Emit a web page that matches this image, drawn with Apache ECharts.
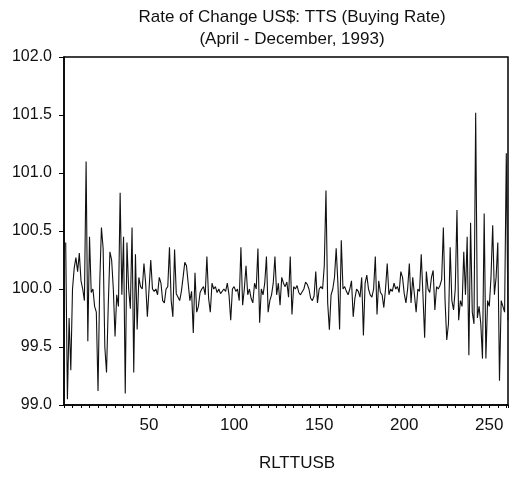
<!DOCTYPE html>
<html>
<head>
<meta charset="utf-8">
<script src="https://cdn.jsdelivr.net/npm/echarts@6/dist/echarts.min.js"></script>
<style>
html,body{margin:0;padding:0;background:#fff;}
#c{width:511px;height:477px;}
</style>
</head>
<body>
<div id="c"></div>
<script>
var titleText = 'Rate of Change US$: TTS (Buying Rate)\n(April - December, 1993)';
var seriesName = 'RLTTUSB';
var yTicks = [99.0, 99.5, 100.0, 100.5, 101.0, 101.5, 102.0];
var xTickLabels = [50, 100, 150, 200, 250];

var seg1 = [100.4, 99.05, 99.75, 99.3, 100.0, 100.18, 100.27, 100.15, 100.31, 100.07, 100.0, 99.9, 101.1, 99.55, 100.45, 99.97, 100.0, 99.85, 99.8, 99.12, 100.05, 100.53, 100.35, 99.5, 99.28, 99.85, 100.32, 100.25, 100.0, 99.59, 99.95, 99.85, 100.83, 99.95, 100.45, 99.1, 100.4, 100.0, 99.83, 100.53, 99.28];
var seg2 = [100.3, 99.65, 100.1, 100.02, 100.0, 100.22, 100.05, 99.76, 100.0, 100.25, 100.0, 99.98, 100.0, 99.95, 100.1, 100.05, 99.9, 99.88, 100.0, 100.02, 100.36, 99.9, 99.76, 100.34, 99.96, 99.95, 99.9, 99.98, 100.1, 100.23, 100.2, 100.05, 99.9, 99.98, 99.62, 100.14, 99.8, 99.85, 99.97, 100.0, 100.02, 99.95, 100.28, 99.92];
var seg3 = [99.8, 100.05, 100.0, 100.02, 99.97, 100.0, 99.96, 99.95, 100.0, 99.98, 100.05, 99.95, 99.73, 100.0, 100.02, 99.98, 100.0, 99.9, 100.36, 99.86, 100.0, 100.2, 99.95, 100.0, 99.92, 99.88, 100.05, 100.0, 100.35, 99.71, 100.0, 99.95, 100.05, 100.28, 99.8, 99.9, 99.95, 100.05, 100.28, 99.95, 100.05, 99.86, 100.1];
var seg4 = [100.05, 100.02, 100.06, 99.93, 100.28, 99.78, 100.02, 100.0, 100.03, 99.97, 99.95, 99.96, 100.0, 100.06, 100.04, 100.0, 99.92, 99.9, 99.94, 100.15, 99.88, 100.0, 100.02, 100.0, 100.2, 100.85, 99.88, 99.65, 99.95, 100.0, 100.1, 100.35, 100.05, 99.65, 100.42, 100.0, 100.02, 99.98, 99.95, 100.0, 100.07, 99.76, 99.92, 100.0];
var seg5 = [99.98, 99.93, 100.1, 99.6, 100.05, 100.12, 100.0, 99.95, 99.93, 100.0, 100.28, 99.78, 100.07, 99.97, 99.95, 99.84, 100.0, 100.22, 99.95, 100.0, 99.98, 100.05, 100.0, 100.02, 99.97, 100.15, 100.1, 99.96, 99.88, 100.0, 100.22, 99.88, 100.1, 99.95, 99.8, 100.0, 99.98, 100.3, 99.95, 99.58, 100.15, 100.0, 99.97, 100.1];
var seg6 = [100.16, 99.82, 100.02, 100.0, 100.03, 100.08, 100.53, 99.9, 99.56, 99.7, 100.36, 99.9, 99.82, 100.0, 100.68, 99.73, 99.9, 99.85, 100.32, 99.95, 100.45, 99.43, 100.57, 99.8, 99.7, 101.52, 99.75, 99.85, 99.7, 99.4, 100.65, 99.4, 99.9, 99.85, 100.1, 100.55, 99.95, 100.1, 100.4, 99.21, 99.9, 99.85, 99.8, 101.17, 99.73];

var values = seg1.concat(seg2, seg3, seg4, seg5, seg6);
var data = values.map(function (v, k) { return [k + 1, v]; });

var FONT = 'Liberation Sans, Arial, Helvetica, sans-serif';
var chart = echarts.init(document.getElementById('c'), null, {renderer: 'canvas'});
chart.setOption({
  animation: false,
  backgroundColor: '#fff',
  title: {
    text: titleText,
    left: 287,
    textAlign: 'center',
    top: 1,
    textStyle: {fontFamily: FONT, fontSize: 17, fontWeight: 'normal', color: '#111', lineHeight: 22}
  },
  grid: {
    left: 64, right: 1, top: 57, bottom: 72,
    show: true, borderColor: '#000', borderWidth: 1.5, backgroundColor: 'transparent'
  },
  xAxis: {
    type: 'value',
    min: 0, max: 261, interval: 5,
    name: seriesName,
    nameLocation: 'middle',
    nameGap: 50,
    nameTextStyle: {fontFamily: FONT, fontSize: 17, color: '#111', padding: [0, 0, 0, 22]},
    axisLine: {show: true, lineStyle: {color: '#000', width: 1.5}},
    axisTick: {show: true, inside: false, length: 3, lineStyle: {color: '#000', width: 1}},
    splitLine: {show: false},
    axisLabel: {
      fontFamily: FONT, fontSize: 17, color: '#111', margin: 12,
      formatter: function (v) { return xTickLabels.indexOf(v) >= 0 ? String(v) : ''; }
    }
  },
  yAxis: {
    type: 'value',
    min: yTicks[0], max: yTicks[yTicks.length - 1], interval: 0.5,
    axisLine: {show: true, lineStyle: {color: '#000', width: 1.5}},
    axisTick: {show: true, inside: false, length: 5, lineStyle: {color: '#000', width: 1}},
    splitLine: {show: false},
    axisLabel: {
      fontFamily: FONT, fontSize: 16, color: '#111', margin: 12,
      formatter: function (v) { return v.toFixed(1); }
    }
  },
  series: [{
    type: 'line',
    name: seriesName,
    data: data,
    showSymbol: false,
    symbol: 'none',
    lineStyle: {color: '#111', width: 1.1},
    z: 3
  }]
});
</script>
</body>
</html>
